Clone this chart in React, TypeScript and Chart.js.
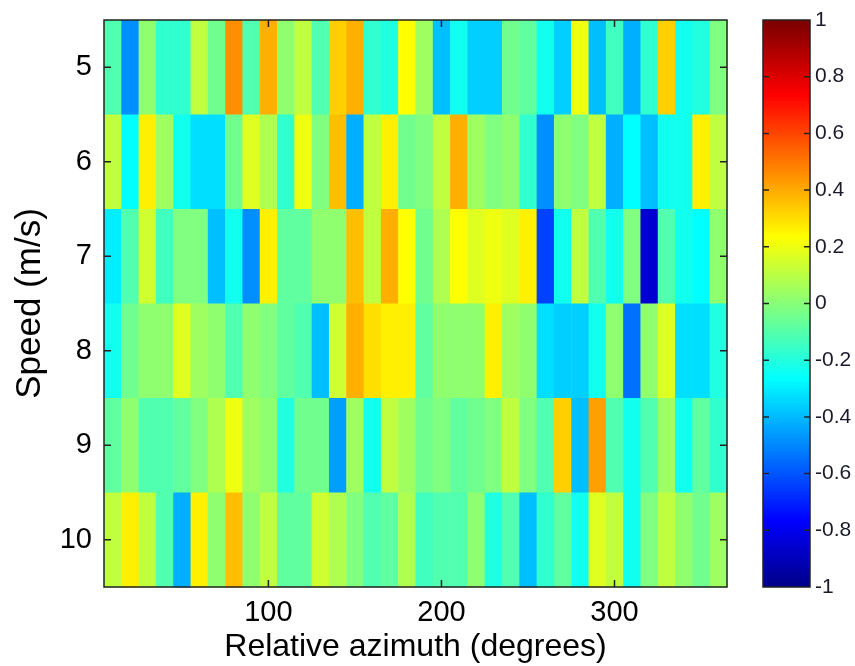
import { useEffect, useRef } from 'react';
import { Chart, registerables } from 'chart.js';

Chart.register(...registerables);

// Azimuth bin centres (degrees)
const azimuths = [10, 20, 30, 40, 50, 60, 70, 80, 90, 100, 110, 120, 130, 140, 150, 160, 170, 180, 190, 200, 210, 220, 230, 240, 250, 260, 270, 280, 290, 300, 310, 320, 330, 340, 350, 360];
// Speed rows (m/s)
const speeds = [5, 6, 7, 8, 9, 10];

const speed5 = [-0.1, -0.47, 0, -0.18, -0.17, 0.1, -0.05, 0.45, -0.12, 0.4, 0, 0.1, -0.12, 0.33, 0.4, -0.17, -0.19, 0.23, 0.06, -0.38, -0.25, -0.35, -0.35, -0.05, -0.07, -0.25, -0.35, 0.2, -0.38, -0.15, -0.42, -0.17, 0.33, -0.23, -0.19, -0.03];
const speed6 = [0.1, -0.28, 0.28, 0.06, -0.25, -0.33, -0.33, -0.05, 0.18, 0.08, -0.18, 0.2, -0.02, 0.36, -0.42, 0.12, 0.28, -0.05, -0.02, 0.12, 0.4, 0.05, -0.03, 0.02, -0.17, -0.47, 0.02, -0.01, 0.1, -0.42, -0.28, -0.38, -0.25, -0.25, 0.25, 0.1];
const speed7 = [-0.31, -0.12, 0.15, -0.15, -0.02, -0.02, -0.39, -0.24, -0.47, 0.25, -0.08, -0.08, 0.02, 0.02, 0.37, 0.12, 0.4, 0.24, -0.05, 0.07, 0.24, 0.17, 0.2, 0.18, 0.28, -0.65, -0.23, 0.1, -0.12, -0.25, -0.01, -0.85, -0.1, -0.23, -0.28, 0];
const speed8 = [-0.24, -0.06, 0, 0, 0.18, 0.05, 0.02, -0.1, 0, -0.01, -0.07, -0.1, -0.38, 0.15, 0.4, 0.3, 0.27, 0.28, -0.08, 0.02, 0.02, 0.02, 0.25, 0.06, 0, -0.33, -0.37, -0.35, -0.23, 0, -0.55, 0, 0.17, -0.33, -0.33, -0.2];
const speed9 = [-0.07, 0.02, -0.1, -0.1, -0.08, -0.02, 0.07, 0.2, 0.05, 0.03, -0.2, -0.05, -0.05, -0.45, 0.05, -0.23, 0.12, 0.05, -0.05, -0.01, -0.08, -0.06, -0.02, 0.12, -0.02, -0.12, 0.33, -0.38, 0.42, -0.12, -0.23, -0.1, 0.05, -0.25, -0.07, -0.17];
const speed10 = [0.1, 0.25, 0.12, -0.1, -0.42, 0.26, 0.02, 0.35, 0.03, 0.12, -0.07, -0.07, 0.14, 0.08, -0.01, -0.12, -0.07, 0.07, -0.15, -0.1, -0.1, 0, -0.19, -0.1, -0.38, -0.17, -0.08, -0.23, 0.18, 0.1, -0.23, -0.03, 0.12, 0, -0.05, 0.05];

const xTicks = [100, 200, 300];
const yTicks = [5, 6, 7, 8, 9, 10];
const cbTicks = [-1, -0.8, -0.6, -0.4, -0.2, 0, 0.2, 0.4, 0.6, 0.8, 1];

const FONT = "'Liberation Sans', Arial, sans-serif";

function jetIndexColor(idx: number): string {
  const i = idx + 1;
  const u = (k: number) => (k < 1 || k > 47 ? 0 : k <= 16 ? k / 16 : k <= 31 ? 1 : (48 - k) / 16);
  const r = u(i - 24), g = u(i - 8), b = u(i + 8);
  return `rgb(${Math.round(r * 255)},${Math.round(g * 255)},${Math.round(b * 255)})`;
}

function jet(v: number): string {
  const idx = Math.min(63, Math.max(0, Math.floor(((v + 1) / 2) * 64)));
  return jetIndexColor(idx);
}

export default function App() {
  const ref = useRef<HTMLCanvasElement>(null);

  useEffect(() => {
    if (!ref.current) return;
    const rows = [speed5, speed6, speed7, speed8, speed9, speed10];
    const cells: { x: number; y: number; v: number }[] = [];
    speeds.forEach((s, r) => azimuths.forEach((a, c) => cells.push({ x: a, y: s, v: rows[r][c] })));

    const heatPlugin = {
      id: 'heat',
      beforeDatasetsDraw(chart: any) {
        const { ctx } = chart;
        const xs = chart.scales.x, ys = chart.scales.y;
        const halfW = 5, halfH = 0.5;
        ctx.save();
        for (const d of chart.data.datasets[0].data as any[]) {
          const x0 = xs.getPixelForValue(d.x - halfW);
          const x1 = xs.getPixelForValue(d.x + halfW);
          const y0 = ys.getPixelForValue(d.y - halfH);
          const y1 = ys.getPixelForValue(d.y + halfH);
          ctx.fillStyle = jet(d.v);
          ctx.fillRect(Math.min(x0, x1), Math.min(y0, y1), Math.abs(x1 - x0) + 0.5, Math.abs(y1 - y0) + 0.5);
        }
        ctx.restore();
      },
      afterDraw(chart: any) {
        const { ctx, chartArea: ca } = chart;
        const xs = chart.scales.x, ys = chart.scales.y, cb = chart.scales.cb;
        ctx.save();
        ctx.strokeStyle = '#222';
        ctx.lineWidth = 1.5;
        ctx.strokeRect(ca.left, ca.top, ca.right - ca.left, ca.bottom - ca.top);
        const tl = 7;
        ctx.beginPath();
        for (const t of xTicks) {
          const px = xs.getPixelForValue(t);
          ctx.moveTo(px, ca.bottom); ctx.lineTo(px, ca.bottom - tl);
          ctx.moveTo(px, ca.top); ctx.lineTo(px, ca.top + tl);
        }
        for (const t of yTicks) {
          const py = ys.getPixelForValue(t);
          ctx.moveTo(ca.left, py); ctx.lineTo(ca.left + tl, py);
          ctx.moveTo(ca.right, py); ctx.lineTo(ca.right - tl, py);
        }
        ctx.stroke();

        // colorbar
        const cbL = ca.right + 36, cbR = ca.right + 83;
        const yTop = cb.getPixelForValue(1), yBot = cb.getPixelForValue(-1);
        const grad = ctx.createLinearGradient(0, yBot, 0, yTop);
        grad.addColorStop(0, jetIndexColor(0));
        for (let k = 0; k < 64; k++) {
          grad.addColorStop((k + 0.5) / 64, jetIndexColor(k));
        }
        grad.addColorStop(1, jetIndexColor(63));
        ctx.fillStyle = grad;
        ctx.fillRect(cbL, yTop, cbR - cbL, yBot - yTop);
        ctx.strokeStyle = '#222';
        ctx.lineWidth = 1.5;
        ctx.strokeRect(cbL, yTop, cbR - cbL, yBot - yTop);
        ctx.beginPath();
        for (const t of cbTicks) {
          if (t === 1 || t === -1) continue;
          const py = cb.getPixelForValue(t);
          ctx.moveTo(cbL, py); ctx.lineTo(cbL + 6, py);
          ctx.moveTo(cbR, py); ctx.lineTo(cbR - 6, py);
        }
        ctx.stroke();
        ctx.restore();
      },
    };

    const tickFont = { family: FONT, size: 29 };
    const titleFont = { family: FONT, size: 32 };

    const chart = new Chart(ref.current, {
      type: 'scatter',
      data: { datasets: [{ data: cells as any, pointRadius: 0, pointHoverRadius: 0 }] },
      options: {
        animation: false,
        responsive: false,
        events: [],
        plugins: { legend: { display: false }, tooltip: { enabled: false } },
        layout: { padding: { left: 8, top: 20, right: 0, bottom: 0 } },
        scales: {
          x: {
            type: 'linear',
            min: 5,
            max: 365,
            grid: { display: false, drawTicks: false },
            border: { display: false },
            afterFit: (s: any) => { s.height = 79; s.paddingLeft = 0; s.paddingRight = 0; },
            afterBuildTicks: (s: any) => { s.ticks = xTicks.map((value) => ({ value })); },
            ticks: { font: tickFont, color: '#000', padding: 9, maxRotation: 0, autoSkip: false },
            title: { display: true, text: 'Relative azimuth (degrees)', font: titleFont, color: '#000', padding: { top: 0, bottom: 0 } },
          },
          y: {
            type: 'linear',
            min: 4.5,
            max: 10.5,
            reverse: true,
            grid: { display: false, drawTicks: false },
            border: { display: false },
            afterFit: (s: any) => { s.width = 96; s.paddingTop = 0; s.paddingBottom = 0; },
            afterBuildTicks: (s: any) => { s.ticks = yTicks.map((value) => ({ value })); },
            ticks: { font: tickFont, color: '#000', padding: 12, autoSkip: false },
            title: { display: true, text: 'Speed (m/s)', font: { family: FONT, size: 35 }, color: '#000', padding: { top: 1, bottom: 0 } },
          },
          cb: {
            type: 'linear',
            axis: 'y',
            position: 'right',
            min: -1,
            max: 1,
            grid: { display: false, drawTicks: false },
            border: { display: false },
            afterFit: (s: any) => { s.width = 128; s.paddingTop = 0; s.paddingBottom = 0; },
            afterBuildTicks: (s: any) => { s.ticks = cbTicks.map((value) => ({ value })); },
            ticks: { font: { family: FONT, size: 21 }, color: '#1a1a2a', padding: 88, autoSkip: false, callback: (v: any) => String(v) },
          },
        } as any,
      },
      plugins: [heatPlugin],
    });
    return () => chart.destroy();
  }, []);

  return (
    <div style={{ position: 'fixed', left: 0, top: 0, width: 855, height: 666, background: '#fff' }}>
      <canvas ref={ref} width={855} height={666} style={{ display: 'block' }} />
    </div>
  );
}
